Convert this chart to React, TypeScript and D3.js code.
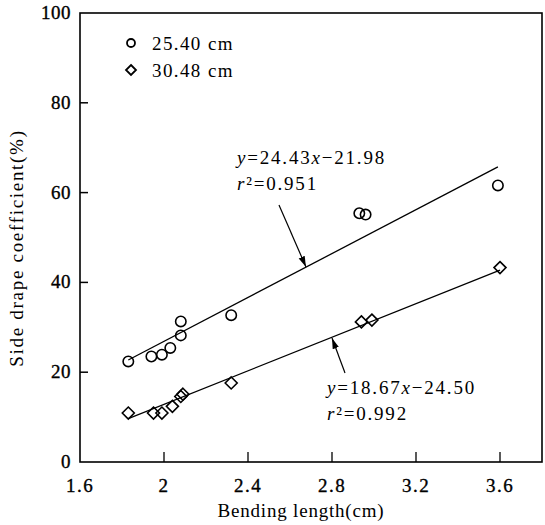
import React from 'react';
import * as d3 from 'd3';

// bending length (cm) vs side drape coefficient (%)
const circleX = [1.83, 1.94, 1.99, 2.03, 2.08, 2.08, 2.32, 2.93, 2.96, 3.59];
const circleY = [22.4, 23.5, 23.9, 25.4, 31.3, 28.2, 32.7, 55.4, 55.1, 61.6];
const diamondX = [1.83, 1.95, 1.99, 2.04, 2.08, 2.09, 2.32, 2.94, 2.99, 3.6];
const diamondY = [10.9, 10.9, 10.9, 12.4, 14.6, 15.1, 17.6, 31.2, 31.6, 43.3];

const xTicks = [1.6, 2, 2.4, 2.8, 3.2, 3.6];
const xTickLabels = ['1.6', '2', '2.4', '2.8', '3.2', '3.6'];
const yTicks = [0, 20, 40, 60, 80, 100];
const legendLabels = ['25.40 cm', '30.48 cm'];

const fitUpper = { a: 24.43, b: -21.98, r2: '0.951' };
const fitLower = { a: 18.67, b: -24.5, r2: '0.992' };

const font = '"Liberation Serif", "DejaVu Serif", serif';

const App = () => {
  const width = 545;
  const height = 525;
  const x = d3.scaleLinear().domain([1.6, 3.8]).range([80, 542]);
  const y = d3.scaleLinear().domain([0, 100]).range([462, 13]);

  const line = d3.line<number>().x(d => x(d[0])).y(d => y(d[1]));
  const fitLine = (xs, f) => {
    const x0 = d3.min(xs), x1 = d3.max(xs);
    return line([[x0, f.a * x0 + f.b], [x1, f.a * x1 + f.b]] as any);
  };

  const diamond = (cx, cy, s) =>
    `M${cx},${cy - s}L${cx + s},${cy}L${cx},${cy + s}L${cx - s},${cy}Z`;

  return (
    <svg width={width} height={height} style={{ position: 'absolute', left: 0, top: 0, background: '#fff' }}
      fontFamily={font}>
      <defs>
        <marker id="arr" viewBox="0 0 10 10" refX="10" refY="5" markerWidth="9" markerHeight="9" orient="auto">
          <path d="M0,2L10,5L0,8Z" fill="#000" />
        </marker>
      </defs>
      {/* frame */}
      <rect x={x(1.6)} y={y(100)} width={x(3.8) - x(1.6)} height={y(0) - y(100)} fill="none" stroke="#000" strokeWidth={1.6} />

      {/* y ticks */}
      {yTicks.map(t => (
        <g key={'y' + t}>
          {t > 0 && t < 100 && <line x1={x(1.6)} x2={x(1.6) + 8} y1={y(t)} y2={y(t)} stroke="#000" strokeWidth={1.5} />}
          <text x={71} y={y(t) + 6} textAnchor="end" fontSize={19} letterSpacing={0.5}
            stroke="#000" strokeWidth={0.35}>{t}</text>
        </g>
      ))}

      {/* x ticks */}
      {xTicks.map((t, i) => (
        <g key={'x' + t}>
          {i > 0 && <line x1={x(t)} x2={x(t)} y1={y(0)} y2={y(0) - 10} stroke="#000" strokeWidth={1.3} />}
          <text x={x(t)} y={492} textAnchor="middle" fontSize={19} letterSpacing={1.5}
            stroke="#000" strokeWidth={0.35}>{xTickLabels[i]}</text>
        </g>
      ))}

      {/* axis titles */}
      <text x={301} y={517} textAnchor="middle" fontSize={19} letterSpacing={0.8}>Bending length(cm)</text>
      <text transform="translate(23,248) rotate(-90)" textAnchor="middle" fontSize={19} letterSpacing={1.7}>Side drape coefficient(%)</text>

      {/* legend */}
      <circle cx={131} cy={43} r={4} fill="none" stroke="#000" strokeWidth={1.8} />
      <text x={152} y={50} fontSize={19} letterSpacing={1.4}>{legendLabels[0]}</text>
      <path d={diamond(131, 70, 5)} fill="none" stroke="#000" strokeWidth={1.8} />
      <text x={152} y={77} fontSize={19} letterSpacing={1.4}>{legendLabels[1]}</text>

      {/* regression lines */}
      <path d={fitLine(circleX, fitUpper)} fill="none" stroke="#000" strokeWidth={1.3} />
      <path d={fitLine(diamondX, fitLower)} fill="none" stroke="#000" strokeWidth={1.3} />

      {/* points */}
      {circleX.map((v, i) => (
        <circle key={'c' + i} cx={x(v)} cy={y(circleY[i])} r={5.2} fill="none" stroke="#000" strokeWidth={1.6} />
      ))}
      {diamondX.map((v, i) => (
        <path key={'d' + i} d={diamond(x(v), y(diamondY[i]), 6)} fill="none" stroke="#000" strokeWidth={1.6} />
      ))}

      {/* annotations */}
      <text x={237} y={164} fontSize={19} letterSpacing={1.8}>
        <tspan fontStyle="italic">y</tspan>={fitUpper.a}<tspan fontStyle="italic">x</tspan>−{Math.abs(fitUpper.b).toFixed(2)}
      </text>
      <text x={237} y={190} fontSize={19} letterSpacing={1.8}>
        <tspan fontStyle="italic">r</tspan>²={fitUpper.r2}
      </text>
      <line x1={279} y1={205} x2={306} y2={267} stroke="#000" strokeWidth={1.2} markerEnd="url(#arr)" />

      <text x={327} y={394} fontSize={19} letterSpacing={1.8}>
        <tspan fontStyle="italic">y</tspan>={fitLower.a}<tspan fontStyle="italic">x</tspan>−{Math.abs(fitLower.b).toFixed(2)}
      </text>
      <text x={327} y={420} fontSize={19} letterSpacing={1.8}>
        <tspan fontStyle="italic">r</tspan>²={fitLower.r2}
      </text>
      <line x1={345} y1={373} x2={332} y2={338} stroke="#000" strokeWidth={1.2} markerEnd="url(#arr)" />
    </svg>
  );
};

export default App;
